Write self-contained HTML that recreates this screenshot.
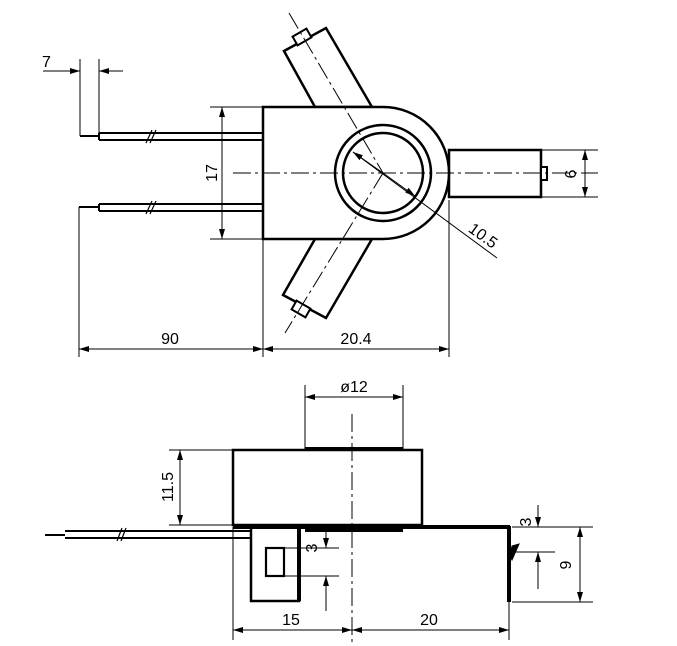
<!DOCTYPE html>
<html><head><meta charset="utf-8"><style>
html,body{margin:0;padding:0;background:#fff;}
svg{display:block;}
text{font-family:"Liberation Sans",sans-serif;fill:#000;}
</style></head><body>
<svg width="677" height="646" viewBox="0 0 677 646" xmlns="http://www.w3.org/2000/svg">
<defs>
<marker id="a" viewBox="0 0 10 6" refX="10" refY="3" markerWidth="10" markerHeight="6" orient="auto-start-reverse" markerUnits="userSpaceOnUse"><path d="M0,0 L10,3 L0,6 z" fill="#000"/></marker>
</defs>
<g fill="none" stroke="#000">
<polygon points="284,51 326,28 372,107 315,107" stroke-width="2.5" fill="#fff"/>
<polygon points="315,239 372,239 326,318 283,295" stroke-width="2.5" fill="#fff"/>
<rect x="294" y="32" width="16" height="10" transform="rotate(-30 302 37)" stroke-width="2" fill="#fff"/>
<rect x="293" y="304" width="16" height="10" transform="rotate(30 301 309)" stroke-width="2" fill="#fff"/>
<rect x="449" y="150" width="92" height="47" stroke-width="2.5" fill="#fff"/>
<rect x="541" y="167" width="6" height="13" stroke-width="2" fill="#fff"/>
<path d="M263,107 L383,107 A66,66 0 0 1 383,239 L263,239 Z" stroke-width="2.5" fill="#fff"/>
<circle cx="383" cy="173" r="48" stroke-width="2.5"/>
<circle cx="383" cy="173" r="40" stroke-width="2.5"/>
<g stroke-width="1" stroke-dasharray="18,4,3,4">
<line x1="233" y1="173" x2="598" y2="173"/>
<line x1="289" y1="13" x2="383" y2="173"/>
<line x1="383" y1="173" x2="285" y2="333"/>
</g>
<line x1="353" y1="152" x2="497" y2="258" stroke-width="1"/>
<line x1="383" y1="173" x2="353" y2="152" stroke-width="1" marker-end="url(#a)"/>
<line x1="383" y1="173" x2="415" y2="196" stroke-width="1" marker-end="url(#a)"/>
<g stroke-width="2">
<line x1="80" y1="136" x2="99" y2="136"/>
<line x1="99" y1="133" x2="263" y2="133"/>
<line x1="99" y1="140" x2="263" y2="140"/>
<line x1="99" y1="133" x2="99" y2="140"/>
<line x1="79" y1="207" x2="99" y2="207"/>
<line x1="99" y1="204" x2="263" y2="204"/>
<line x1="99" y1="211" x2="263" y2="211"/>
<line x1="99" y1="204" x2="99" y2="211"/>
</g>
<g stroke-width="1.2">
<line x1="146" y1="143" x2="152" y2="130"/><line x1="150" y1="143" x2="156" y2="130"/>
<line x1="146" y1="214" x2="152" y2="201"/><line x1="150" y1="214" x2="156" y2="201"/>
</g>
<g stroke-width="1">
<line x1="80" y1="59" x2="80" y2="136"/>
<line x1="99" y1="59" x2="99" y2="133"/>
<line x1="43" y1="71" x2="80" y2="71" marker-end="url(#a)"/>
<line x1="123" y1="71" x2="99" y2="71" marker-end="url(#a)"/>
<line x1="210" y1="107" x2="263" y2="107"/>
<line x1="210" y1="239" x2="263" y2="239"/>
<line x1="222" y1="107" x2="222" y2="239" marker-start="url(#a)" marker-end="url(#a)"/>
<line x1="541" y1="150" x2="598" y2="150"/>
<line x1="541" y1="197" x2="598" y2="197"/>
<line x1="585" y1="150" x2="585" y2="197" marker-start="url(#a)" marker-end="url(#a)"/>
<line x1="79" y1="207" x2="79" y2="357"/>
<line x1="263" y1="239" x2="263" y2="357"/>
<line x1="449" y1="200" x2="449" y2="357"/>
<line x1="79" y1="349" x2="263" y2="349" marker-start="url(#a)" marker-end="url(#a)"/>
<line x1="263" y1="349" x2="449" y2="349" marker-start="url(#a)" marker-end="url(#a)"/>
</g>

<rect x="233" y="450" width="189" height="75" stroke-width="2.5"/>
<line x1="305" y1="449" x2="403" y2="449" stroke-width="4"/>
<line x1="233" y1="527" x2="510" y2="527" stroke-width="4"/>
<line x1="305" y1="530" x2="403" y2="530" stroke-width="4"/>
<line x1="45" y1="535" x2="65" y2="535" stroke-width="2"/>
<line x1="65" y1="531" x2="252" y2="531" stroke-width="2"/>
<line x1="65" y1="538" x2="252" y2="538" stroke-width="2"/>
<line x1="117" y1="541" x2="122" y2="528" stroke-width="1.2"/><line x1="121" y1="541" x2="126" y2="528" stroke-width="1.2"/>
<rect x="251" y="527" width="48" height="74" stroke-width="2.5"/>
<line x1="299" y1="527" x2="299" y2="601" stroke-width="4"/>
<rect x="266" y="548" width="18" height="28" stroke-width="2.2"/>
<line x1="284" y1="548" x2="339" y2="548" stroke-width="1"/>
<line x1="284" y1="576" x2="339" y2="576" stroke-width="1"/>
<line x1="326" y1="530" x2="326" y2="548" stroke-width="1" marker-end="url(#a)"/>
<line x1="326" y1="611" x2="326" y2="576" stroke-width="1" marker-end="url(#a)"/>
<line x1="509" y1="526" x2="509" y2="602" stroke-width="4"/>
<path d="M510,556 L512,546 L519,544 L512,560 Z" fill="#000" stroke-width="1"/>
<line x1="352" y1="414" x2="352" y2="642" stroke-width="1" stroke-dasharray="18,4,3,4"/>
<g stroke-width="1">
<line x1="305" y1="385" x2="305" y2="449"/>
<line x1="403" y1="385" x2="403" y2="449"/>
<line x1="305" y1="397" x2="403" y2="397" marker-start="url(#a)" marker-end="url(#a)"/>
<line x1="169" y1="450" x2="233" y2="450"/>
<line x1="169" y1="525" x2="233" y2="525"/>
<line x1="180" y1="450" x2="180" y2="525" marker-start="url(#a)" marker-end="url(#a)"/>
<line x1="512" y1="527" x2="593" y2="527"/>
<line x1="512" y1="602" x2="593" y2="602"/>
<line x1="580" y1="527" x2="580" y2="602" marker-start="url(#a)" marker-end="url(#a)"/>
<line x1="512" y1="552" x2="555" y2="552"/>
<line x1="538" y1="505" x2="538" y2="527" marker-end="url(#a)"/>
<line x1="538" y1="589" x2="538" y2="552" marker-end="url(#a)"/>
<line x1="233" y1="527" x2="233" y2="640"/>
<line x1="509" y1="602" x2="509" y2="640"/>
<line x1="233" y1="630" x2="352" y2="630" marker-start="url(#a)" marker-end="url(#a)"/>
<line x1="352" y1="630" x2="509" y2="630" marker-start="url(#a)" marker-end="url(#a)"/>
</g>
</g>
<g font-size="16">
<text x="42" y="67">7</text>
<text x="212" y="173" text-anchor="middle" transform="rotate(-90 212 173)" dy="5">17</text>
<text x="571" y="174" text-anchor="middle" transform="rotate(-90 571 174)" dy="5">6</text>
<text x="480" y="240" text-anchor="middle" transform="rotate(36 480 240)">10.5</text>
<text x="170" y="344" text-anchor="middle">90</text>
<text x="356" y="344" text-anchor="middle">20.4</text>
<text x="354" y="392" text-anchor="middle">ø12</text>
<text x="168" y="487" text-anchor="middle" transform="rotate(-90 168 487)" dy="5">11.5</text>
<text x="312" y="548" text-anchor="middle" transform="rotate(-90 312 548)" dy="5">3</text>
<text x="526" y="522" text-anchor="middle" transform="rotate(-90 526 522)" dy="5">3</text>
<text x="566" y="565" text-anchor="middle" transform="rotate(-90 566 565)" dy="5">9</text>
<text x="291" y="625" text-anchor="middle">15</text>
<text x="429" y="625" text-anchor="middle">20</text>
</g>
</svg>
</body></html>
